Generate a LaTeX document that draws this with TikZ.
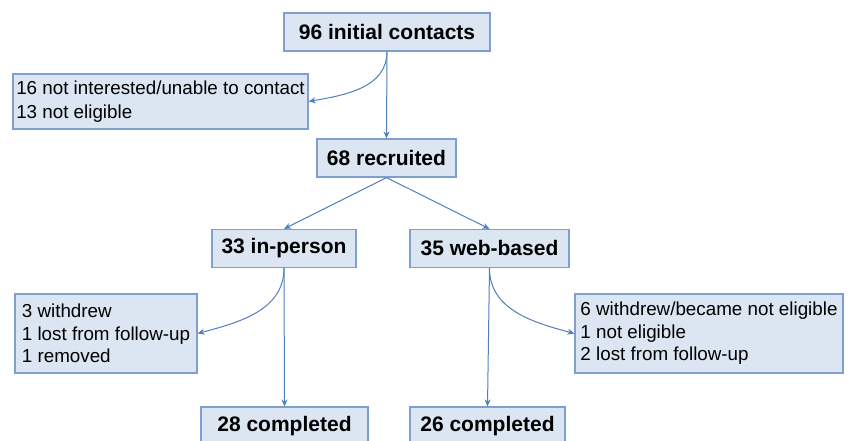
\documentclass[tikz,border=0pt]{standalone}
\usepackage{fontspec}
\setmainfont{Liberation Sans}
\usetikzlibrary{arrows.meta}

\definecolor{boxfill}{HTML}{DCE6F2}
\definecolor{boxline}{HTML}{7F9FCF}
\definecolor{arrowline}{HTML}{4F7FBF}

\tikzset{
  stage/.style={draw=boxline, fill=boxfill, line width=1.2pt, minimum height=38,
    font=\fontsize{21}{25}\selectfont\bfseries},
  loss/.style={draw=boxline, fill=boxfill, line width=1.2pt, align=left,
    font=\fontsize{18.8}{22.5}\selectfont},
  flow/.style={draw=arrowline, line width=1pt, -{Stealth[length=7pt,width=6pt]}},
}

\begin{document}
\begin{tikzpicture}[x=1pt,y=-1pt]
			\useasboundingbox (0,0) rectangle (852,440);

			\node[stage, minimum width=206] (v0) at (387  , 32   ) {96 initial contacts};
			\node[loss, minimum width=295, minimum height=55, font=\fontsize{18.8}{24}\selectfont] (v1) at (160.5, 101.5) {16 not interested/unable to contact\\13 not eligible};
			\node[stage, minimum width=139] (v2) at (386.5, 158  ) {68 recruited};
			\node[stage, minimum width=144] (v3) at (284  , 248.5) {33 in-person};
			\node[stage, minimum width=159] (v4) at (489.5, 248.5) {35 web-based};
			\node[loss, minimum width=182, minimum height=79] (v5) at (106  , 333.5) {3 withdrew\\1 lost from follow-up\\1 removed};
			\node[loss, minimum width=268, minimum height=79] (v6) at (709  , 333.5) {6 withdrew/became not eligible\\1 not eligible\\2 lost from follow-up};
			\node[stage, minimum width=167] (v7) at (284.5, 426  ) {28 completed};
			\node[stage, minimum width=155] (v8) at (487.5, 426  ) {26 completed};

			\def\straight {v0/v2, v2/v3, v2/v4, v3/v7, v4/v8}  % straight down the flow
			\foreach \u\v in \straight
			{	\draw[flow] (\u.south) -- (\v.north);
			}
			\def\dropout {v0/v1/east/10, v3/v5/east/15, v4/v6/west/165}  % curved to the loss boxes
			\foreach \u\v\side\ang in \dropout
			{	\draw[flow] (\u.south) to[out=-90, in=\ang] (\v.\side);
			}
		\end{tikzpicture}
\end{document}
